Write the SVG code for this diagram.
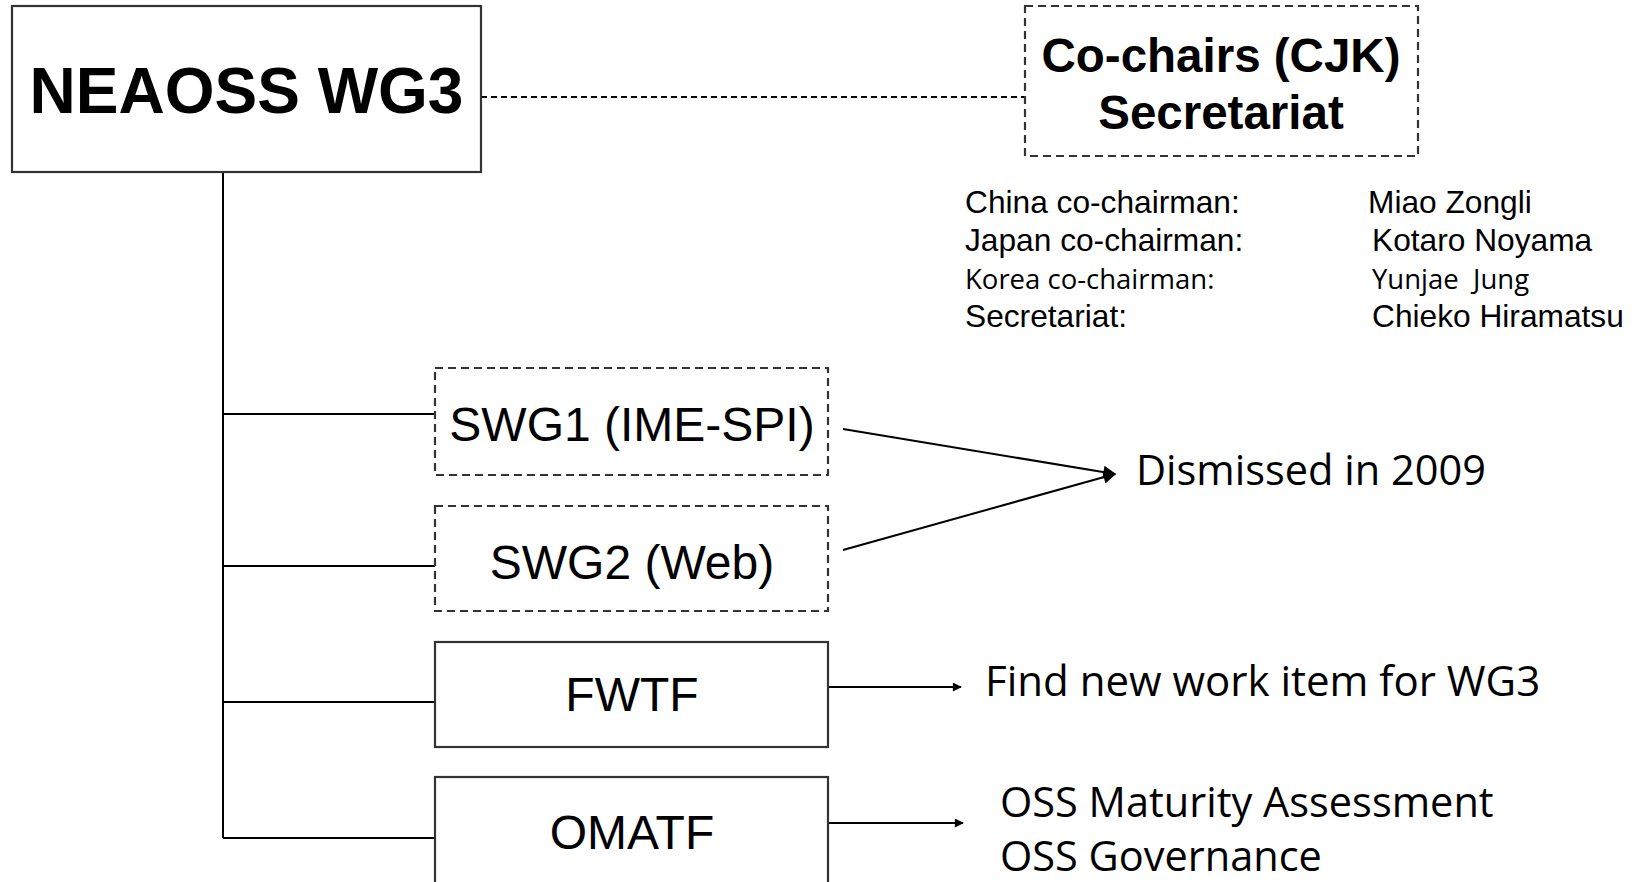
<svg xmlns="http://www.w3.org/2000/svg" width="1640" height="882" viewBox="0 0 1640 882">
<defs>
<style>
.box{fill:#fff;stroke:#333;stroke-width:2.2}
.dash{stroke-dasharray:8 5}
.ln{stroke:#000;stroke-width:2;fill:none}
.ar{font-family:"Liberation Sans",Arial,sans-serif;fill:#000}
.cb{font-family:"Open Sans","Lato",sans-serif;fill:#000}
.b{font-weight:bold}
</style>
<marker id="ah" viewBox="0 0 10 10" refX="9" refY="5" markerWidth="11" markerHeight="9" markerUnits="userSpaceOnUse" orient="auto">
<path d="M0,0 L10,5 L0,10 Z" fill="#000"/>
</marker>
<marker id="ah2" viewBox="0 0 10 10" refX="9" refY="5" markerWidth="16" markerHeight="13" markerUnits="userSpaceOnUse" orient="auto">
<path d="M0,0 L10,5 L0,10 Z" fill="#000"/>
</marker>
</defs>
<rect width="1640" height="882" fill="#fff"/>
<g id="connectors">
<line class="ln" x1="223" y1="172" x2="223" y2="838"/>
<line class="ln" x1="223" y1="414" x2="435" y2="414"/>
<line class="ln" x1="223" y1="566" x2="435" y2="566"/>
<line class="ln" x1="223" y1="702" x2="435" y2="702"/>
<line class="ln" x1="223" y1="838" x2="435" y2="838"/>
<line class="ln" x1="481" y1="97" x2="1025" y2="97" stroke-width="1.5" stroke-dasharray="6 4"/>
<line class="ln" x1="843" y1="429" x2="1115" y2="474" marker-end="url(#ah2)"/>
<line class="ln" x1="843" y1="550" x2="1115" y2="474" marker-end="url(#ah2)"/>
<line class="ln" x1="828" y1="687" x2="961" y2="687" marker-end="url(#ah)"/>
<line class="ln" x1="828" y1="823" x2="963" y2="823" marker-end="url(#ah)"/>
</g>
<g id="node-wg3">
<rect class="box" x="12" y="6" width="469" height="166"/>
<text class="ar b" x="246.5" y="113" font-size="64" text-anchor="middle">NEAOSS WG3</text>
</g>
<g id="node-cochairs">
<rect class="box dash" x="1025" y="6" width="393" height="150"/>
<text class="ar b" x="1221" y="72" font-size="47.5" text-anchor="middle">Co-chairs (CJK)</text>
<text class="ar b" x="1221" y="129" font-size="47.5" text-anchor="middle">Secretariat</text>
</g>
<g id="info">
<text class="ar" x="965" y="213" font-size="31.7">China co-chairman:</text>
<text class="ar" x="1368" y="213" font-size="31.7">Miao Zongli</text>
<text class="ar" x="965" y="251" font-size="31.7">Japan co-chairman:</text>
<text class="ar" x="1372" y="251" font-size="31.7">Kotaro Noyama</text>
<text class="cb" x="965" y="289" font-size="27.5" xml:space="preserve">Korea co-chairman:</text>
<text class="cb" x="1372" y="289" font-size="27.5" xml:space="preserve">Yunjae  Jung</text>
<text class="ar" x="965" y="327" font-size="31.7">Secretariat:</text>
<text class="ar" x="1372" y="327" font-size="31.7">Chieko Hiramatsu</text>
</g>
<g id="node-swg1">
<rect class="box dash" x="435" y="368" width="393" height="107"/>
<text class="ar" x="632" y="441" font-size="48" text-anchor="middle">SWG1 (IME-SPI)</text>
</g>
<g id="node-swg2">
<rect class="box dash" x="435" y="506" width="393" height="105"/>
<text class="ar" x="632" y="579" font-size="48" text-anchor="middle">SWG2 (Web)</text>
</g>
<g id="node-fwtf">
<rect class="box" x="435" y="642" width="393" height="105"/>
<text class="ar" x="632" y="711" font-size="48" text-anchor="middle">FWTF</text>
</g>
<g id="node-omatf">
<rect class="box" x="435" y="777" width="393" height="115"/>
<text class="ar" x="632" y="849" font-size="48" text-anchor="middle">OMATF</text>
</g>
<g id="labels">
<text class="cb" x="1136" y="485" font-size="41.5">Dismissed in 2009</text>
<text class="cb" x="985" y="696" font-size="42">Find new work item for WG3</text>
<text class="cb" x="1000" y="817" font-size="41.5">OSS Maturity Assessment</text>
<text class="cb" x="1000" y="871" font-size="41.5">OSS Governance</text>
</g>
</svg>
